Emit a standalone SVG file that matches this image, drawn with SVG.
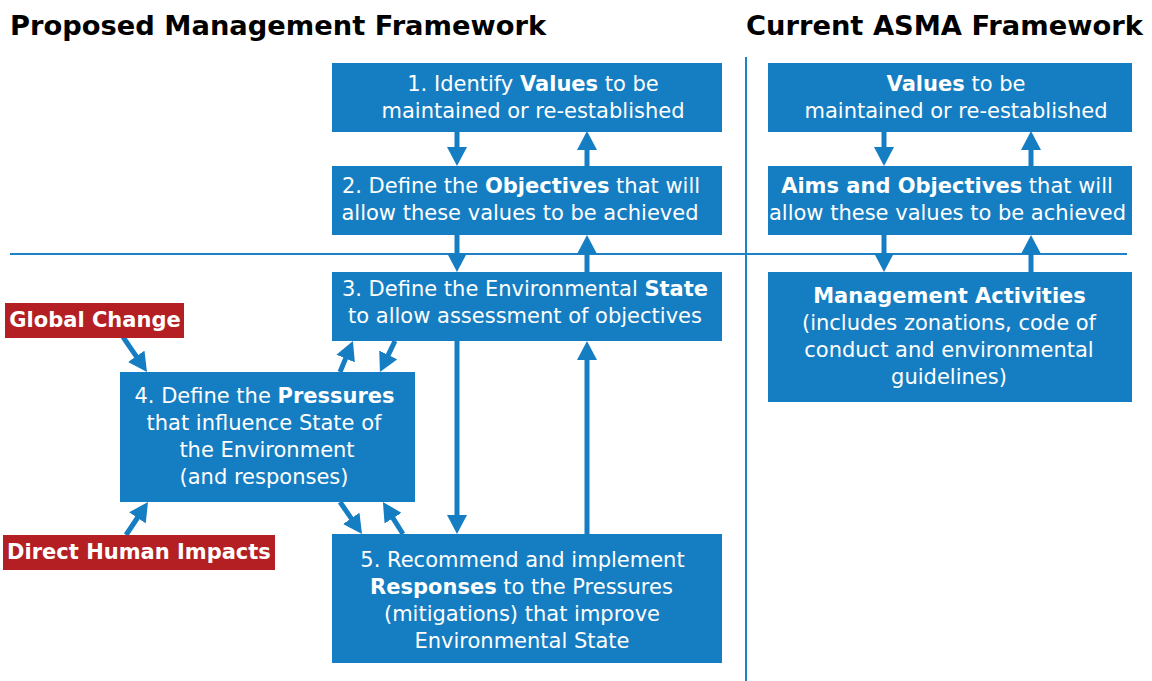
<svg xmlns="http://www.w3.org/2000/svg" width="1152" height="681" viewBox="0 0 1152 681">
<style>
.box{fill:#157EC2}
.red{fill:#B41F24}
.t{font-family:"DejaVu Sans",Verdana,sans-serif;font-size:21px;fill:#fff;text-anchor:middle}
.b{font-weight:bold}
.title{font-family:"DejaVu Sans",Verdana,sans-serif;font-size:27.3px;font-weight:bold;fill:#000}
.a{stroke:#157EC2;stroke-width:5;fill:none;marker-end:url(#ah)}
.sep{stroke:#1E82C8;stroke-width:2;fill:none}
</style>
<defs>
<marker id="ah" markerUnits="userSpaceOnUse" markerWidth="20" markerHeight="20" refX="1" refY="10" orient="auto">
<path d="M0,0 L19,10 L0,20 z" fill="#157EC2"/>
</marker>
</defs>
<text class="title" x="10" y="35">Proposed Management Framework</text>
<text class="title" x="746" y="35">Current ASMA Framework</text>
<g id="separators">
<line class="sep" x1="10" y1="254" x2="1127" y2="254"/>
<line class="sep" x1="746" y1="57" x2="746" y2="681"/>
</g>
<g id="connectors">
<line class="a" x1="457" y1="131" x2="457" y2="148"/>
<line class="a" x1="587" y1="166" x2="587" y2="149"/>
<line class="a" x1="457" y1="235" x2="457" y2="254"/>
<line class="a" x1="587" y1="272" x2="587" y2="253"/>
<line class="a" x1="457" y1="341" x2="457" y2="516"/>
<line class="a" x1="587" y1="534" x2="587" y2="359"/>
<line class="a" x1="340" y1="372" x2="346" y2="357.6"/>
<line class="a" x1="395" y1="341" x2="387.8" y2="355.8"/>
<line class="a" x1="340" y1="502" x2="351.8" y2="519.2"/>
<line class="a" x1="403" y1="534" x2="392.5" y2="517.3"/>
<line class="a" x1="123" y1="337" x2="136.8" y2="357.1"/>
<line class="a" x1="126" y1="535" x2="138" y2="517"/>
<line class="a" x1="884" y1="131" x2="884" y2="148"/>
<line class="a" x1="1031" y1="166" x2="1031" y2="149"/>
<line class="a" x1="884" y1="235" x2="884" y2="254"/>
<line class="a" x1="1031" y1="272" x2="1031" y2="253"/>
</g>
<g id="box1">
<rect class="box" x="332" y="63" width="390" height="69"/>
<text class="t" x="533" y="91">1. Identify <tspan class="b">Values</tspan> to be</text>
<text class="t" x="533" y="118">maintained or re-established</text>
</g>
<g id="box2">
<rect class="box" x="332" y="166" width="390" height="69"/>
<text class="t" x="521" y="193">2. Define the <tspan class="b">Objectives</tspan> that will</text>
<text class="t" x="520" y="220">allow these values to be achieved</text>
</g>
<g id="box3">
<rect class="box" x="332" y="272" width="390" height="69"/>
<text class="t" x="525" y="296">3. Define the Environmental <tspan class="b">State</tspan></text>
<text class="t" x="525" y="323">to allow assessment of objectives</text>
</g>
<g id="box4">
<rect class="box" x="120" y="372" width="295" height="130"/>
<text class="t" x="264.5" y="403">4. Define the <tspan class="b">Pressures</tspan></text>
<text class="t" x="264" y="430">that influence State of</text>
<text class="t" x="267" y="457">the Environment</text>
<text class="t" x="264" y="484">(and responses)</text>
</g>
<g id="box5">
<rect class="box" x="332" y="534" width="390" height="129"/>
<text class="t" x="522.5" y="567">5. Recommend and implement</text>
<text class="t" x="521.5" y="594"><tspan class="b">Responses</tspan> to the Pressures</text>
<text class="t" x="522" y="621">(mitigations) that improve</text>
<text class="t" x="522" y="648">Environmental State</text>
</g>
<g id="globalChange">
<rect class="red" x="5" y="303" width="179" height="35"/>
<text class="t b" x="95" y="327">Global Change</text>
</g>
<g id="directHuman">
<rect class="red" x="3" y="535" width="272" height="35"/>
<text class="t b" x="139" y="559">Direct Human Impacts</text>
</g>
<g id="rValues">
<rect class="box" x="768" y="63" width="364" height="69"/>
<text class="t" x="956" y="91"><tspan class="b">Values</tspan> to be</text>
<text class="t" x="956" y="118">maintained or re-established</text>
</g>
<g id="rAims">
<rect class="box" x="768" y="166" width="364" height="69"/>
<text class="t" x="947" y="193"><tspan class="b">Aims and Objectives</tspan> that will</text>
<text class="t" x="947.5" y="220">allow these values to be achieved</text>
</g>
<g id="rMgmt">
<rect class="box" x="768" y="272" width="364" height="130"/>
<text class="t b" x="949.5" y="303">Management Activities</text>
<text class="t" x="949" y="330">(includes zonations, code of</text>
<text class="t" x="949" y="357">conduct and environmental</text>
<text class="t" x="949" y="384">guidelines)</text>
</g>
</svg>
